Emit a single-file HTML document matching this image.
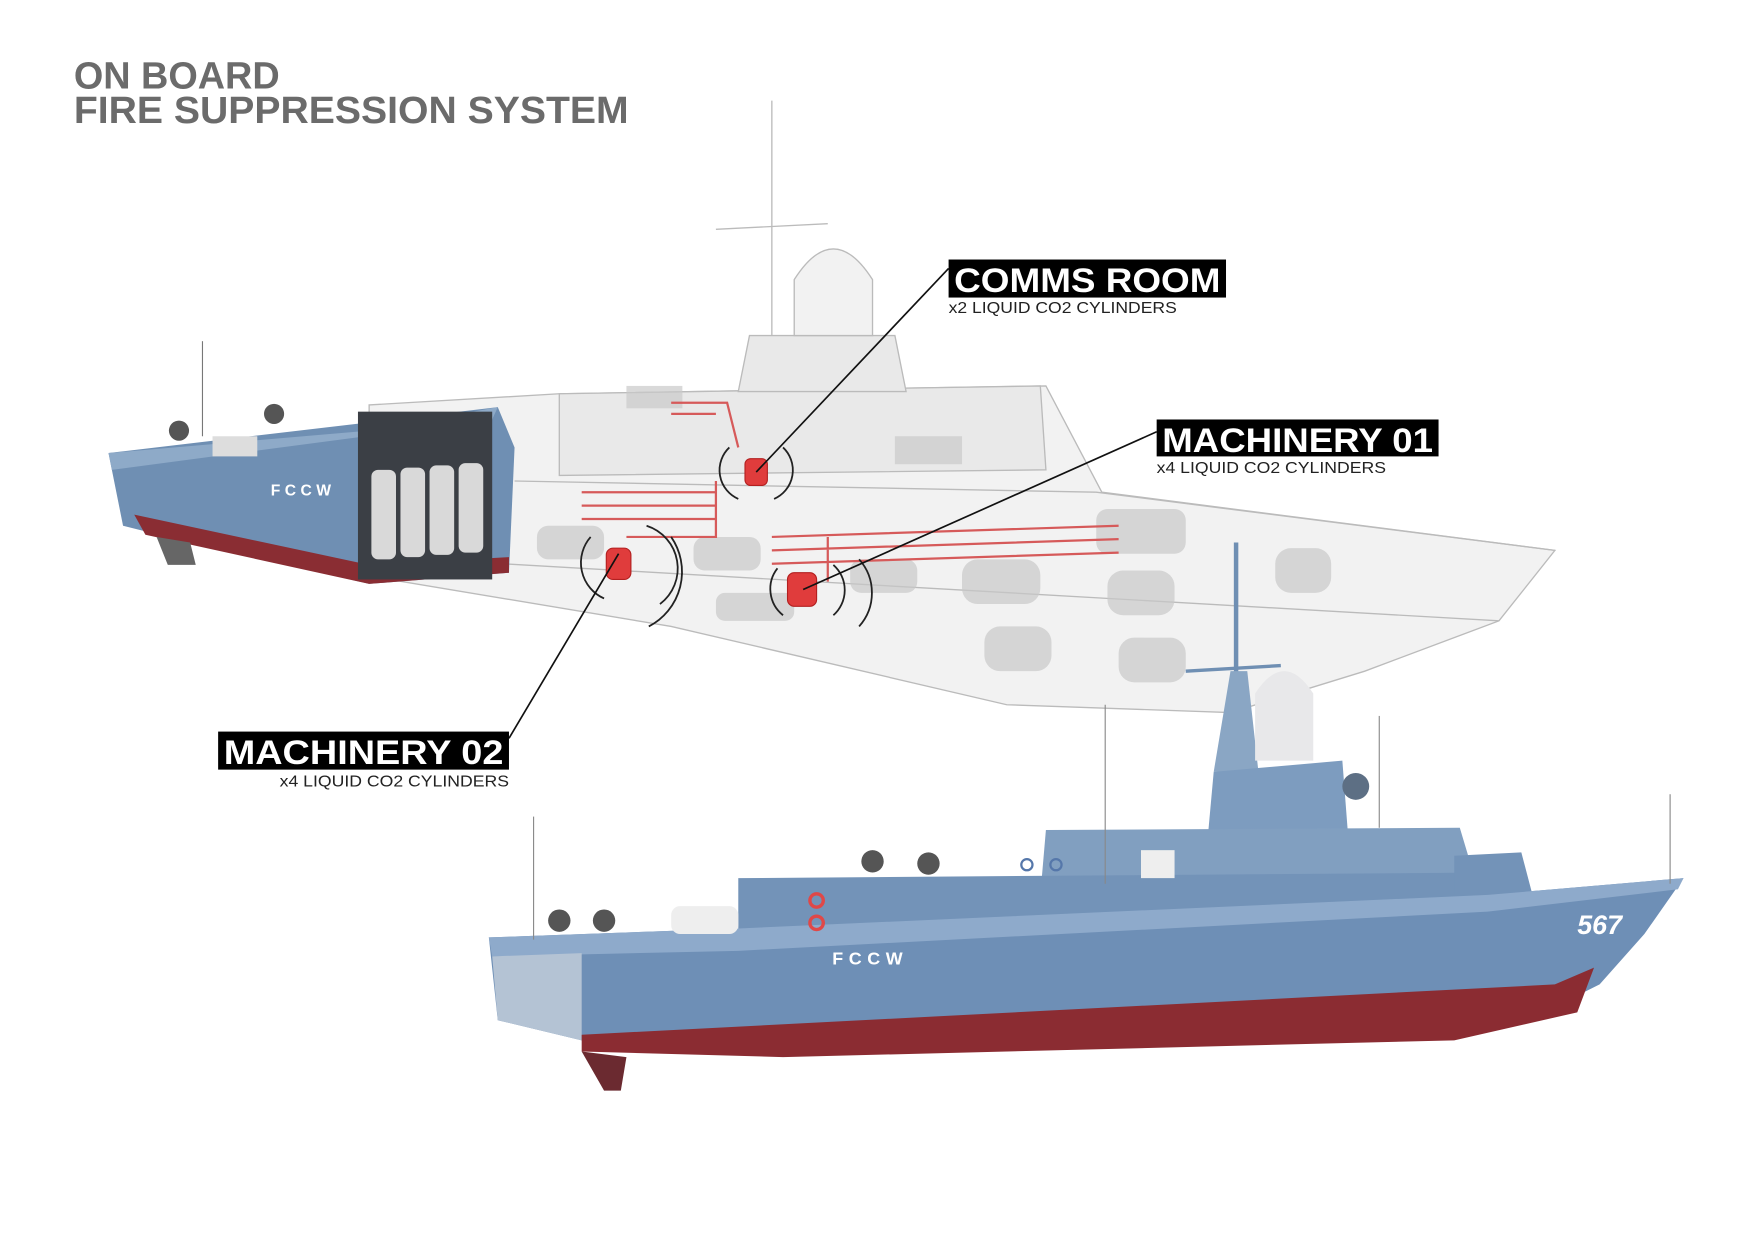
<!DOCTYPE html>
<html><head><meta charset="utf-8"><style>
html,body{margin:0;padding:0;background:#fff;}
svg{display:block;}
</style></head><body>
<svg width="1754" height="1240" viewBox="0 0 1568 1108.5" preserveAspectRatio="none" xmlns="http://www.w3.org/2000/svg">
<rect width="1568" height="1109" fill="#fff"/>
<!-- Title -->
<text x="66" y="79" font-family="'Liberation Sans Narrow','Liberation Sans',sans-serif" font-weight="bold" font-size="34" fill="#6b6b6b" textLength="184" lengthAdjust="spacingAndGlyphs">ON BOARD</text>
<text x="66" y="110" font-family="'Liberation Sans Narrow','Liberation Sans',sans-serif" font-weight="bold" font-size="34" fill="#6b6b6b" textLength="496" lengthAdjust="spacingAndGlyphs">FIRE SUPPRESSION SYSTEM</text>

<!-- TOP GHOST SHIP -->
<g stroke="#bbb" stroke-width="1.2">
<line x1="690" y1="90" x2="690" y2="345"/>
<line x1="640" y1="205" x2="740" y2="200"/>
<path d="M330,362 L500,352 L935,345 L985,440 L1390,492 L1340,555 L1220,600 L1100,637 L900,630 L600,560 L330,515 Z" fill="#efefef" fill-opacity="0.8"/>
<path d="M500,352 L930,345 L935,420 L500,425 Z" fill="#e6e6e6" fill-opacity="0.8"/>
<path d="M670,300 L800,300 L810,350 L660,350 Z" fill="#e9e9e9"/>
<path d="M710,300 L710,250 Q745,195 780,250 L780,300 Z" fill="#f2f2f2"/>
<path d="M460,430 L980,440 L1390,492" fill="none"/>
<path d="M380,500 L1340,555" fill="none"/>
</g>
<g fill="#c9c9c9" opacity="0.7">
<rect x="560" y="345" width="50" height="20"/>
<rect x="480" y="470" width="60" height="30" rx="10"/>
<rect x="620" y="480" width="60" height="30" rx="10"/>
<rect x="760" y="500" width="60" height="30" rx="10"/>
<rect x="860" y="500" width="70" height="40" rx="14"/>
<rect x="990" y="510" width="60" height="40" rx="14"/>
<rect x="1140" y="490" width="50" height="40" rx="14"/>
<rect x="640" y="530" width="70" height="25" rx="8"/>
<rect x="880" y="560" width="60" height="40" rx="14"/>
<rect x="1000" y="570" width="60" height="40" rx="14"/>
<rect x="980" y="455" width="80" height="40" rx="10"/>
<rect x="800" y="390" width="60" height="25"/>
</g>
<g stroke="#d65a5a" stroke-width="2" fill="none">
<path d="M520,440 L640,440 M520,452 L640,452 M520,464 L640,464 M640,430 L640,480 L560,480"/>
<path d="M690,480 L1000,470 M690,492 L1000,482 M690,504 L1000,494 M740,480 L740,520"/>
<path d="M600,360 L650,360 L660,400 M600,370 L640,370"/>
</g>
<!-- Blue cutaway section -->
<path d="M97,405 L445,364 L460,400 L455,512 L330,522 L150,480 L110,470 Z" fill="#6f8fb3"/>
<path d="M97,405 L330,385 L445,364 L440,375 L100,420 Z" fill="#8eaac8"/>
<path d="M120,460 L330,505 L455,498 L455,512 L330,522 L130,478 Z" fill="#8a2d33"/>
<rect x="320" y="368" width="120" height="150" fill="#3b3f45"/>
<g fill="#d9d9d9"><rect x="332" y="420" width="22" height="80" rx="6"/><rect x="358" y="418" width="22" height="80" rx="6"/><rect x="384" y="416" width="22" height="80" rx="6"/><rect x="410" y="414" width="22" height="80" rx="6"/></g>
<text x="242" y="443" font-family="'Liberation Sans',sans-serif" font-weight="bold" font-size="14" fill="#fff" letter-spacing="4">FCCW</text>
<g fill="#555"><circle cx="160" cy="385" r="9"/><circle cx="245" cy="370" r="9"/><rect x="190" y="390" width="40" height="18" fill="#ddd"/></g>
<line x1="181" y1="305" x2="181" y2="390" stroke="#777"/>
<path d="M140,480 L170,485 L175,505 L150,505 Z" fill="#666"/>

<!-- red cylinders -->
<g fill="#e03c3c" stroke="#b32020">
<rect x="666" y="410" width="20" height="24" rx="5"/>
<rect x="542" y="490" width="22" height="28" rx="6"/>
<rect x="704" y="512" width="26" height="30" rx="6"/>
</g>
<g stroke="#222" stroke-width="1.6" fill="none">
<path d="M652,400 A28,28 0 0,0 660,446"/><path d="M700,400 A28,28 0 0,1 692,446"/>
<path d="M528,480 A35,35 0 0,0 540,535"/><path d="M578,470 A40,40 0 0,1 590,540"/><path d="M600,480 A55,55 0 0,1 580,560"/>
<path d="M695,508 A30,30 0 0,0 700,550"/><path d="M745,505 A30,30 0 0,1 745,550"/><path d="M768,500 A45,45 0 0,1 768,560"/>
</g>

<!-- BOTTOM SHIP -->
<line x1="1105" y1="485" x2="1105" y2="610" stroke="#6f8fb3" stroke-width="4"/>
<line x1="1060" y1="600" x2="1145" y2="595" stroke="#6f8fb3" stroke-width="3"/>
<path d="M1085,690 L1100,600 L1115,600 L1125,690 Z" fill="#8aa6c4"/>
<path d="M1122,680 L1122,620 Q1148,580 1174,620 L1174,680 Z" fill="#e8e8ea"/>
<path d="M1085,690 L1200,680 L1205,745 L1080,745 Z" fill="#7d9cbf"/>
<circle cx="1212" cy="703" r="12" fill="#5d6f84"/>
<path d="M935,742 L1305,740 L1320,790 L930,800 Z" fill="#819fc0"/>
<path d="M660,785 L1330,780 L1360,800 L660,840 Z" fill="#7393b8"/>
<path d="M1300,765 L1360,762 L1370,800 L1300,800 Z" fill="#7393b8"/>
<path d="M437,838 L660,830 L1330,800 L1505,785 L1470,835 L1430,880 L1380,905 L520,930 L445,912 Z" fill="#6e8fb6"/>
<path d="M437,838 L660,830 L1330,800 L1505,785 L1500,795 L1330,815 L660,850 L440,855 Z" fill="#8eaacb"/>
<path d="M440,855 L520,852 L520,930 L445,912 Z" fill="#b4c3d4"/>
<path d="M520,925 L1390,880 L1425,865 L1410,905 L1300,930 L700,945 L520,940 Z" fill="#8b2c32"/>
<g fill="#555"><circle cx="500" cy="823" r="10"/><circle cx="540" cy="823" r="10"/><circle cx="780" cy="770" r="10"/><circle cx="830" cy="772" r="10"/></g>
<g fill="#eee"><rect x="600" y="810" width="60" height="25" rx="8"/><rect x="1020" y="760" width="30" height="25"/></g>
<g fill="none" stroke="#e04848" stroke-width="3"><circle cx="730" cy="805" r="6"/><circle cx="730" cy="825" r="6"/></g>
<g fill="none" stroke="#5577aa" stroke-width="2"><circle cx="918" cy="773" r="5"/><circle cx="944" cy="773" r="5"/></g>
<text x="744" y="862" font-family="'Liberation Sans',sans-serif" font-weight="bold" font-size="16" fill="#fff" letter-spacing="5">FCCW</text>
<text x="1410" y="835" font-family="'Liberation Sans',sans-serif" font-weight="bold" font-style="italic" font-size="24" fill="#fff">567</text>
<path d="M520,940 L560,945 L555,975 L540,975 Z" fill="#6b2a30"/>
<g stroke="#888" stroke-width="1"><line x1="477" y1="730" x2="477" y2="840"/><line x1="988" y1="630" x2="988" y2="790"/><line x1="1233" y1="640" x2="1233" y2="740"/><line x1="1493" y1="710" x2="1493" y2="790"/></g>

<!-- connectors -->
<g stroke="#111" stroke-width="1.5">
<line x1="848" y1="240" x2="676" y2="422"/>
<line x1="1034" y1="386" x2="718" y2="527"/>
<line x1="455" y1="660" x2="553" y2="495"/>
</g>

<!-- Labels -->
<g font-family="'Liberation Sans',sans-serif">
<rect x="848" y="232" width="248" height="34" fill="#000"/>
<text x="853" y="261" font-weight="bold" font-size="31" fill="#fff" textLength="238" lengthAdjust="spacingAndGlyphs">COMMS ROOM</text>
<text x="848" y="280" font-size="14" fill="#222" textLength="204" lengthAdjust="spacingAndGlyphs">x2 LIQUID CO2 CYLINDERS</text>
<rect x="1034" y="375" width="252" height="33" fill="#000"/>
<text x="1039" y="404" font-weight="bold" font-size="31" fill="#fff" textLength="242" lengthAdjust="spacingAndGlyphs">MACHINERY 01</text>
<text x="1034" y="423" font-size="14" fill="#222" textLength="205" lengthAdjust="spacingAndGlyphs">x4 LIQUID CO2 CYLINDERS</text>
<rect x="195" y="654" width="260" height="34" fill="#000"/>
<text x="200" y="683" font-weight="bold" font-size="31" fill="#fff" textLength="250" lengthAdjust="spacingAndGlyphs">MACHINERY 02</text>
<text x="250" y="703" font-size="14" fill="#222" textLength="205" lengthAdjust="spacingAndGlyphs">x4 LIQUID CO2 CYLINDERS</text>
</g>
</svg>
</body></html>
